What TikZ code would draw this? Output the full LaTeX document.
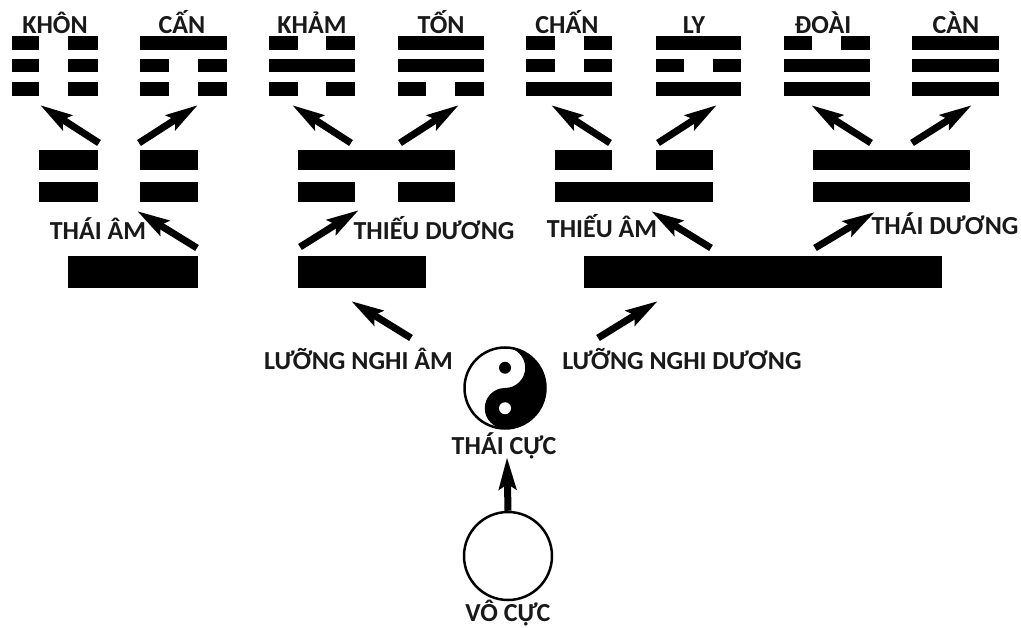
\documentclass[tikz,border=0pt]{standalone}
\usepackage{fontspec}
\setmainfont{Carlito}
\usetikzlibrary{arrows.meta}
\tikzset{
  x=1pt,y=-1pt,
  yaobar/.style={fill=black,draw=none,inner sep=0pt,outer sep=0pt,rectangle},
  arr/.style={draw=black,line width=7pt,-{Stealth[length=32pt,width=17pt,inset=5pt]}},
  lab/.style={anchor=base,inner sep=0pt,font=\fontsize{26}{28}\selectfont\bfseries,text=black!90},
  ring/.style={circle,draw=black,line width=2.5pt,fill=white,inner sep=0pt,minimum size=86pt},
}
% \yao{name}{x1}{x2}{y1}{y2}
\newcommand{\yao}[5]{%
  \pgfmathsetmacro{\yw}{#3-#2}\pgfmathsetmacro{\yh}{#5-#4}%
  \pgfmathsetmacro{\ycx}{(#2+#3)/2}\pgfmathsetmacro{\ycy}{(#4+#5)/2}%
  \node[yaobar,minimum width=\yw pt,minimum height=\yh pt] (#1) at (\ycx,\ycy) {};}
\newcommand{\arrowfrom}[5]{%
  \coordinate (#1s) at (#2,#3); \coordinate (#1e) at (#4,#5);
  \draw[arr] (#1s) -- (#1e);}
\begin{document}
\begin{tikzpicture}
\useasboundingbox (0,0) rectangle (1021,628);
\fill[white] (0,0) rectangle (1021,628);
% labels, top row
\node[lab] (lkhon) at (55,33.5) {KHÔN};
\node[lab] (lcan) at (182,33.5) {CẤN};
\node[lab] (lkham) at (312,33.5) {KHẢM};
\node[lab] (lton) at (441,33.5) {TỐN};
\node[lab] (lchan) at (567,33.5) {CHẤN};
\node[lab] (lly) at (694,33.5) {LY};
\node[lab] (ldoai) at (823,33.5) {ĐOÀI};
\node[lab] (lcanh) at (956,33.5) {CÀN};
% KHON
\yao{a1l}{12}{39}{36.5}{50}\yao{a1r}{68}{98}{36.5}{50}
\yao{a2l}{12}{39}{59}{72.5}\yao{a2r}{68}{98}{59}{72.5}
\yao{a3l}{12}{39}{82}{96}\yao{a3r}{68}{98}{82}{96}
% CAN
\yao{b1}{140}{227}{36.5}{50}
\yao{b2l}{140}{169}{59}{72.5}\yao{b2r}{198}{227}{59}{72.5}
\yao{b3l}{140}{169}{82}{96}\yao{b3r}{198}{227}{82}{96}
% KHAM
\yao{c1l}{269}{298}{36.5}{50}\yao{c1r}{326}{355}{36.5}{50}
\yao{c2}{269}{355}{59}{72.5}
\yao{c3l}{269}{298}{82}{96}\yao{c3r}{326}{355}{82}{96}
% TON
\yao{d1}{398}{484}{36.5}{50}
\yao{d2}{398}{484}{59}{72.5}
\yao{d3l}{398}{426}{82}{96}\yao{d3r}{455}{484}{82}{96}
% CHAN
\yao{e1l}{526}{555}{36.5}{50}\yao{e1r}{584}{612}{36.5}{50}
\yao{e2l}{526}{555}{59}{72.5}\yao{e2r}{584}{612}{59}{72.5}
\yao{e3}{526}{612}{82}{96}
% LY
\yao{f1}{656}{741}{36.5}{50}
\yao{f2l}{656}{684}{59}{72.5}\yao{f2r}{713}{741}{59}{72.5}
\yao{f3}{656}{741}{82}{96}
% DOAI
\yao{g1l}{784}{812}{36.5}{50}\yao{g1r}{841}{870}{36.5}{50}
\yao{g2}{784}{870}{59}{72.5}
\yao{g3}{784}{870}{82}{96}
% CANH
\yao{h1}{912}{999}{36.5}{50}
\yao{h2}{912}{999}{59}{72.5}
\yao{h3}{912}{999}{82}{96}
% digrams
\yao{p1a}{39}{98}{150.5}{170}\yao{p1b}{140}{198}{150.5}{170}
\yao{p2a}{39}{98}{182}{202}\yao{p2b}{140}{198}{182}{202}
\yao{q1}{298}{455}{150.5}{170}
\yao{q2a}{298}{355}{182}{202}\yao{q2b}{398}{455}{182}{202}
\yao{r1a}{555}{612}{150.5}{170}\yao{r1b}{656}{713}{150.5}{170}
\yao{r2}{555}{713}{182}{202}
\yao{s1}{813}{970}{150.5}{170}
\yao{s2}{813}{970}{182}{202}
% monograms
\yao{m1}{68}{198}{256.5}{288}
\yao{m2}{298}{426}{256.5}{288}
\yao{m3}{584}{942}{256.5}{288}
% mid labels
\node[lab] (lta) at (98,240) {THÁI ÂM};
\node[lab] (ltd) at (434,240) {THIẾU DƯƠNG};
\node[lab] (lia) at (602,238) {THIẾU ÂM};
\node[lab] (lid) at (945,235) {THÁI DƯƠNG};
\node[lab] (lna) at (358.5,370) {LƯỠNG NGHI ÂM};
\node[lab] (lnd) at (682,370) {LƯỠNG NGHI DƯƠNG};
\node[lab] (ltc) at (504,455) {THÁI CỰC};
\node[lab] (lvc) at (508,621) {VÔ CỰC};
% arrows
\arrowfrom{u1}{99}{143}{40}{105}
\arrowfrom{u2}{139}{143}{198}{105}
\arrowfrom{u3}{351}{143}{292}{105}
\arrowfrom{u4}{400}{143}{459}{105}
\arrowfrom{u5}{610}{143}{551}{105}
\arrowfrom{u6}{658}{143}{717}{105}
\arrowfrom{u7}{871}{143}{811}{105}
\arrowfrom{u8}{912}{143}{972}{105}
\arrowfrom{v1}{197}{248}{137}{211}
\arrowfrom{v2}{300}{247}{359}{210}
\arrowfrom{v3}{711}{248}{651}{211}
\arrowfrom{v4}{815}{248}{875}{212}
\arrowfrom{w1}{411}{338}{351}{301}
\arrowfrom{w2}{598}{338}{658}{301}
% taiji
\node[ring,minimum size=81pt] (taiji) at (505,388) {};
\begin{scope}[shift={(505,388)},x=1pt,y=1pt]
  \fill[black] (0,40.5) arc[start angle=90,end angle=-90,radius=40.5]
     arc[start angle=-90,end angle=-270,radius=20.25]
     arc[start angle=-90,end angle=90,radius=20.25] -- cycle;
  \fill[black] (0,20.25) circle[radius=6];
  \fill[white] (0,-20.25) circle[radius=6];
\end{scope}
% wuji
\node[ring,minimum size=88pt] (wuji) at (508,556) {};
\coordinate (ztip) at (507,457);
\draw[arr] (wuji.north) -- (ztip);
\end{tikzpicture}
\end{document}
